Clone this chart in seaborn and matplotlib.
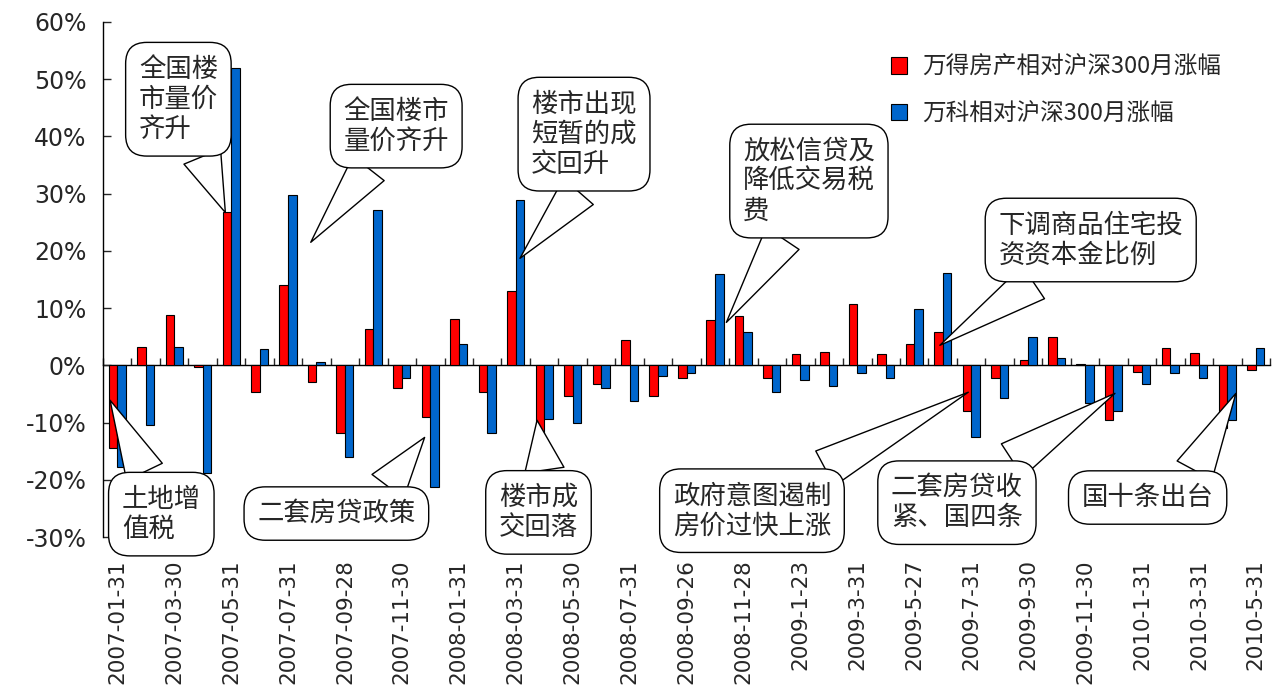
import numpy as np
import pandas as pd
import matplotlib
matplotlib.use("Agg")
import matplotlib.pyplot as plt
import seaborn as sns
from matplotlib.patches import Patch

# 月度数据（%）
dates = ["2007-01-31", "2007-02-28", "2007-03-30", "2007-04-30", "2007-05-31", "2007-06-29",
         "2007-07-31", "2007-08-31", "2007-09-28", "2007-10-31", "2007-11-30", "2007-12-28",
         "2008-01-31", "2008-02-29", "2008-03-31", "2008-04-30", "2008-05-30", "2008-06-30",
         "2008-07-31", "2008-08-29", "2008-09-26", "2008-10-31", "2008-11-28", "2008-12-31",
         "2009-1-23", "2009-2-27", "2009-3-31", "2009-4-30", "2009-5-27", "2009-6-30",
         "2009-7-31", "2009-8-31", "2009-9-30", "2009-10-30", "2009-11-30", "2009-12-31",
         "2010-1-31", "2010-2-26", "2010-3-31", "2010-4-30", "2010-5-31"]
wind_re = [-14.5, 3.2, 8.8, -0.3, 26.8, -4.7, 14.1, -3.0, -11.8, 6.3, -4.0, -9.0, 8.1, -4.7,
           13.0, -16.4, -5.4, -3.3, 4.5, -5.4, -2.2, 8.0, 8.7, -2.2, 2.0, 2.3, 10.8, 2.0, 3.8,
           5.9, -7.9, -2.2, 0.9, 4.9, 0.2, -9.6, -1.1, 3.0, 2.2, -11.0, -0.8]
vanke = [-17.8, -10.4, 3.2, -18.9, 51.9, 2.8, 29.7, 0.5, -16.1, 27.1, -2.2, -21.3, 3.8, -11.8,
         28.9, -9.3, -10.1, -4.0, -6.2, -1.9, -1.4, 15.9, 5.9, -4.7, -2.5, -3.6, -1.4, -2.2, 9.8,
         16.1, -12.5, -5.7, 4.9, 1.3, -6.6, -7.9, -3.2, -1.4, -2.2, -9.6, 3.0]
series_names = ["万得房产相对沪深300月涨幅", "万科相对沪深300月涨幅"]
colors = ["#ff0000", "#0066cc"]

# 标注文字
notes = ["全国楼\n市量价\n齐升", "全国楼市\n量价齐升", "楼市出现\n短暂的成\n交回升",
         "放松信贷及\n降低交易税\n费", "下调商品住宅投\n资资本金比例", "土地增\n值税",
         "二套房贷政策", "楼市成\n交回落", "政府意图遏制\n房价过快上涨",
         "二套房贷收\n紧、国四条", "国十条出台"]
note_target = [(3.8, 26.7), (6.8, 21.5), (14.15, 18.7), (21.4, 7.5), (28.9, 3.5), (-0.25, -6.1),
               (10.8, -12.6), (14.75, -9.6), (29.9, -4.7), (35.05, -4.9), (39.3, -4.9)]
note_box = [(2.15, 46.5), (9.8, 41.8), (16.4, 40.4), (24.3, 32.2), (34.2, 21.9), (1.55, -26.0),
            (7.7, -25.9), (14.8, -25.7), (22.3, -25.4), (29.5, -24.0), (36.2, -23.1)]
# 楔形起点在框上的相对位置
note_rel = [(0.73, 0), (0.34, 0), (0.56, 0), (0.37, 0), (0.3, 0), (0.37, 1),
            (0.76, 1), (0.6, 1), (0.8, 1), (0.76, 1), (0.8, 1)]

df = pd.DataFrame({
    "date": dates * 2,
    "series": [series_names[0]] * len(dates) + [series_names[1]] * len(dates),
    "value": wind_re + vanke,
})

sns.set_style("white")
plt.rcParams["font.family"] = ["DejaVu Sans", "Noto Sans CJK SC"]
plt.rcParams["axes.unicode_minus"] = False

fig = plt.figure(figsize=(12.79, 6.89), dpi=100)
ax = fig.add_axes([0.0805, 0.2206, 0.9125, 0.7475])

sns.barplot(data=df, x="date", y="value", hue="series", palette=colors, width=0.6,
            edgecolor="black", linewidth=0.8, ax=ax, legend=False, saturation=1)

ax.set_xlim(-0.5, len(dates) - 0.5)
ax.set_ylim(-30, 60)
ax.set_yticks(np.arange(-30, 61, 10))
ax.set_yticklabels(["%d%%" % v for v in range(-30, 61, 10)], fontsize=17)
ax.tick_params(axis="y", direction="in", length=6, width=1, pad=12, left=True)
ax.set_xticks(range(0, len(dates), 2))
ax.set_xticklabels(dates[::2], rotation=90, fontsize=15.5)
ax.tick_params(axis="x", length=0, pad=16)
ax.set_xlabel("")
ax.set_ylabel("")
for s in ["top", "right", "bottom"]:
    ax.spines[s].set_visible(False)
ax.spines["left"].set_color("black")
ax.spines["left"].set_linewidth(1)

# 0轴及分隔刻度
zero = ax.secondary_xaxis(30 / 90)
zero.set_xticks(np.arange(-0.5, len(dates), 1))
zero.tick_params(direction="in", length=5, width=1, labelbottom=False, labeltop=False)
zero.spines["bottom"].set_color("black")
zero.spines["bottom"].set_linewidth(1)

cjk = ["Noto Sans CJK SC", "DejaVu Sans"]
for txt, tgt, box, rel in zip(notes, note_target, note_box, note_rel):
    ax.annotate(txt, xy=tgt, xytext=box, textcoords="data", ha="center", va="center",
                multialignment="left", fontsize=19, family=cjk, linespacing=1.15,
                bbox=dict(boxstyle="round,pad=0.5,rounding_size=0.8", fc="white", ec="black", lw=1),
                arrowprops=dict(arrowstyle="wedge,tail_width=1.5,shrink_factor=0.5",
                                fc="white", ec="black", lw=1, shrinkA=0, shrinkB=0,
                                relpos=rel),
                zorder=5)

handles = [Patch(facecolor=c, edgecolor="black", linewidth=0.8) for c in colors]
fig.legend(handles, series_names, loc="upper left", bbox_to_anchor=(0.68, 0.95),
           frameon=False, prop={"family": cjk, "size": 17}, handlelength=0.7,
           handleheight=0.7, labelspacing=1.0, handletextpad=0.6)

plt.savefig("out.png", dpi=100)
